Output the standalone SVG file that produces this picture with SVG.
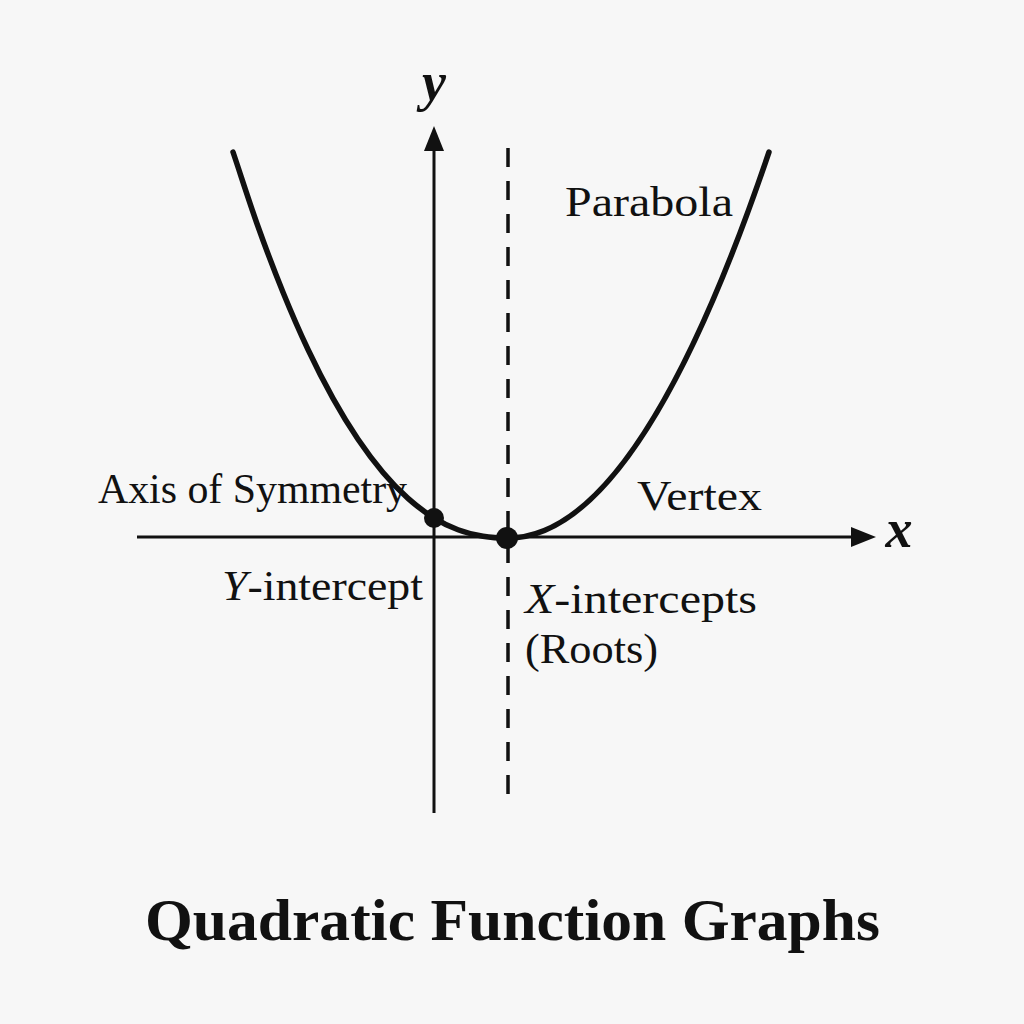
<svg xmlns="http://www.w3.org/2000/svg" width="1024" height="1024" viewBox="0 0 1024 1024">
<style>
.lbl{font-family:"Liberation Serif","Times New Roman",serif;fill:#111;font-size:42px}
.var{font-family:"Liberation Serif","Times New Roman",serif;fill:#111;font-style:italic;font-weight:bold;font-size:54px}
.title{font-family:"Liberation Serif","Times New Roman",serif;fill:#111;font-weight:bold;font-size:60px}
.axis{stroke:#111;stroke-width:3;fill:none}
.curve{stroke:#111;stroke-width:5.5;fill:none;stroke-linecap:round;stroke-linejoin:round}
.dash{stroke:#111;stroke-width:3.5;fill:none;stroke-dasharray:19 14}
.dot{fill:#111}
</style>
<rect width="1024" height="1024" fill="#f7f7f7"/>
<g id="connectors">
<line class="axis" x1="434" y1="813" x2="434" y2="148"/>
<polygon points="434,126 424,151 444,151" fill="#111"/>
<line class="axis" x1="137" y1="537" x2="854" y2="537"/>
<polygon points="876,537 851,527 851,547" fill="#111"/>
<line class="dash" x1="508" y1="148" x2="508" y2="805"/>
</g>
<g id="parabola">
<path class="curve" d="M233,152 C241.33,176.83 249.67,203.13 258,226.5 C266.33,249.87 274.67,271.7 283,292.2 C291.33,312.7 299.67,331.8 308,349.5 C316.33,367.2 324.67,383.43 333,398.4 C341.33,413.37 349.67,426.95 358,439.3 C366.33,451.65 374.67,462.65 383,472.5 C391.33,482.35 399.67,490.93 408,498.4 C416.33,505.87 424.67,512.08 433,517.3 C441.33,522.52 449.67,526.55 458,529.7 C466.33,532.85 474.67,534.82 483,536.2 C491.33,537.58 499.67,538 508,538 Q638.5,538 769,152"/>
</g>
<g id="y-intercept-point"><circle class="dot" cx="434" cy="518" r="10"/></g>
<g id="vertex-point"><circle class="dot" cx="507" cy="538" r="11"/></g>
<g id="axis-labels">
<text class="var" x="434" y="100" text-anchor="middle">y</text>
<text class="var" x="899" y="547" text-anchor="middle">x</text>
</g>
<g id="labels">
<text class="lbl" x="565" y="216" font-size="44" textLength="168" lengthAdjust="spacingAndGlyphs">Parabola</text>
<text class="lbl" x="637" y="510" font-size="44" textLength="125" lengthAdjust="spacingAndGlyphs">Vertex</text>
<text class="lbl" x="98" y="503" textLength="309" lengthAdjust="spacingAndGlyphs">Axis of Symmetry</text>
<text class="lbl" x="222" y="600" textLength="201" lengthAdjust="spacingAndGlyphs"><tspan font-style="italic">Y</tspan>-intercept</text>
<text class="lbl" x="525" y="613" textLength="232" lengthAdjust="spacingAndGlyphs"><tspan font-style="italic">X</tspan>-intercepts</text>
<text class="lbl" x="525" y="663" textLength="133" lengthAdjust="spacingAndGlyphs">(Roots)</text>
</g>
<g id="title">
<text class="title" x="145" y="940" textLength="735" lengthAdjust="spacingAndGlyphs">Quadratic Function Graphs</text>
</g>
</svg>
